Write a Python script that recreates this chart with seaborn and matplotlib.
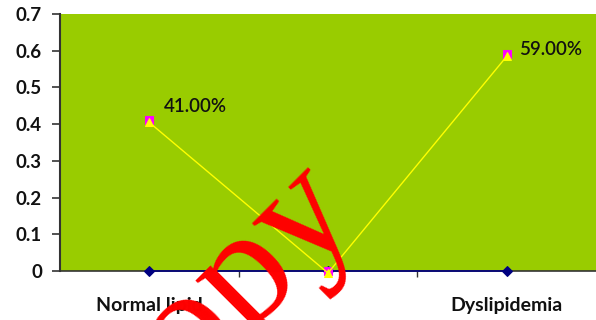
import matplotlib
matplotlib.use("Agg")
import matplotlib.pyplot as plt
import seaborn as sns
import pandas as pd
import numpy as np

categories = ["Normal lipid", "", "Dyslipidemia"]
base_values = [0.0, 0.0, 0.0]
pct_values = [0.41, 0.0, 0.59]
tri_values = [0.41, 0.0, 0.59]
labels = ["41.00%", "", "59.00%"]
yticks = [0, 0.1, 0.2, 0.3, 0.4, 0.5, 0.6, 0.7]
ytick_labels = ["0", "0.1", "0.2", "0.3", "0.4", "0.5", "0.6", "0.7"]

# label offsets in pixels (style, not data)
label_offsets = [(15, 14), (0, 0), (12, 5)]

sns.set_theme(style="white")
plt.rcParams['font.family'] = ['Lato', 'DejaVu Sans']

fig = plt.figure(figsize=(5.96, 3.20), dpi=100)
ax = fig.add_axes([60/596, 1-271/320, 1-60/596, (271-14)/320])
ax.set_facecolor("#99CC00")

x = np.arange(len(categories))
df = pd.DataFrame({"x": x, "base": base_values, "pct": pct_values, "tri": tri_values})

sns.lineplot(data=df, x="x", y="base", ax=ax, color="#000080", lw=1.2,
             marker="D", markersize=5, markeredgecolor="#000080", clip_on=False, zorder=3)
sns.lineplot(data=df, x="x", y="pct", ax=ax, color="#FF00FF", lw=0,
             marker="s", markersize=5.5, markeredgecolor="#FF00FF", clip_on=False, zorder=4)
sns.lineplot(data=df, x="x", y="tri", ax=ax, color="#FFFF00", lw=1.0,
             marker="^", markersize=5.5, markeredgecolor="#FFFF00", clip_on=False, zorder=5)
ax.lines[-1].set_transform(ax.transData + matplotlib.transforms.ScaledTranslation(0, -2/100, fig.dpi_scale_trans))

for xi, yi, lab, off in zip(x, pct_values, labels, label_offsets):
    if lab:
        ax.annotate(lab, (xi, yi), xytext=off, textcoords="offset pixels",
                    fontsize=13.5, fontweight="semibold", color="#111111", va="center", ha="left")

ax.set_xlim(-0.5, 2.5)
ax.set_ylim(0, 0.7)
ax.set_yticks(yticks)
ax.set_yticklabels(ytick_labels, fontsize=13.5, fontweight="bold", color="#111111")
ax.set_xticks(x)
ax.set_xticklabels(categories, fontsize=14, fontweight="bold", color="#111111")
ax.set_xticks([0.5, 1.5], minor=True)
ax.tick_params(axis="x", which="major", length=0, pad=19)
ax.tick_params(axis="x", which="minor", length=4, width=1, color="#333333", direction="out", bottom=True)
ax.tick_params(axis="y", which="major", length=6, width=1.2, color="#333333", pad=7, left=True)
ax.set_xlabel("")
ax.set_ylabel("")
for s in ["top", "right"]:
    ax.spines[s].set_visible(False)
ax.spines["left"].set_color("#333333")
ax.spines["left"].set_linewidth(1.5)
ax.spines["bottom"].set_color("#333333")
ax.spines["bottom"].set_linewidth(1.2)

fig.text(221/596, 1-300/320, "copy", fontsize=118, color="#FF0000", rotation=45,
         family=["Liberation Serif", "DejaVu Serif"], ha="center", va="center")

fig.savefig("out.png", dpi=100)
